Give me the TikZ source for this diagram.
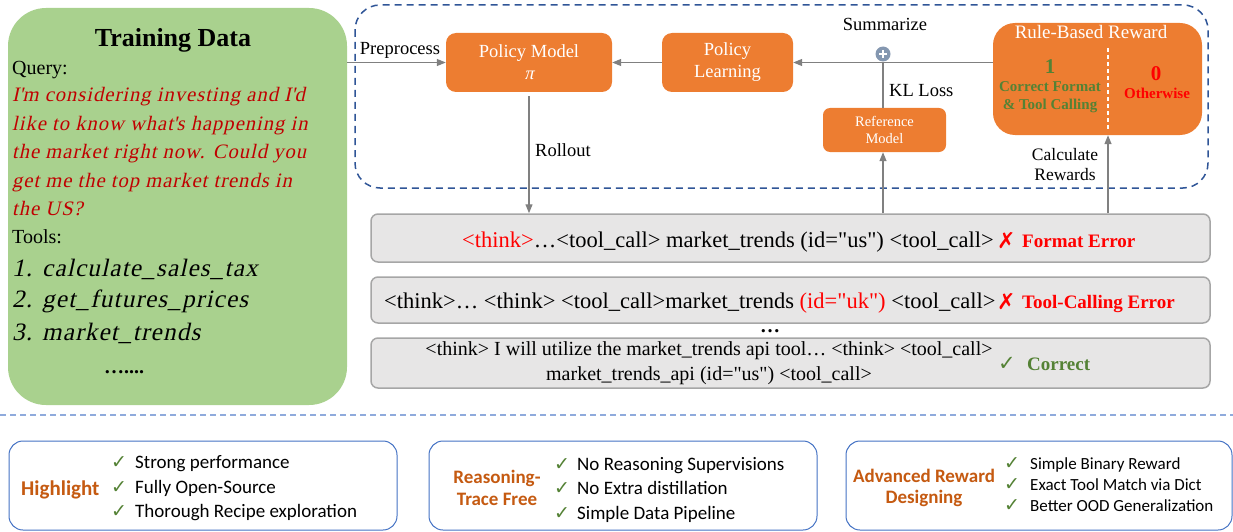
\documentclass[tikz,border=0pt]{standalone}
\usepackage{fontspec}
\setmainfont{Liberation Serif}
\newfontfamily\lsi{Liberation Serif}[FakeSlant=0.22,LetterSpace=5]
\newfontfamily\lsp{Liberation Serif}[FakeSlant=0.22]
\newfontfamily\carl{Carlito}
\newfontfamily\dejavu{DejaVu Sans}
\usetikzlibrary{arrows.meta,calc}
\definecolor{gfill}{HTML}{A9D18E}
\definecolor{orng}{HTML}{ED7D31}
\definecolor{dblue}{HTML}{2F5597}
\definecolor{lblue}{HTML}{8FAADC}
\definecolor{bblue}{HTML}{4472C4}
\definecolor{qred}{HTML}{C00000}
\definecolor{ggreen}{HTML}{548235}
\definecolor{otext}{HTML}{C55A11}
\definecolor{arrgrey}{HTML}{808080}
\definecolor{boxgrey}{HTML}{E7E6E6}
\definecolor{boxedge}{HTML}{A6A6A6}
\definecolor{plusc}{HTML}{8497B0}
\newcommand{\fs}[2]{\fontsize{#1}{#2}\selectfont}
\newcommand{\qq}{\textquotedbl}
\newcommand{\ap}{\textquotesingle}
\begin{document}
\begin{tikzpicture}[x=1pt,y=-1pt,
  obox/.style={fill=orng, draw=none, text=white, align=center, inner sep=0pt},
  arr/.style={draw=arrgrey, line width=1.3pt, -{Triangle[length=9pt,width=7pt]}},
  conn/.style={draw=arrgrey, line width=1.3pt},
  lbl/.style={inner sep=0pt, font=\fs{18.5}{22}},
  txt/.style={inner sep=0pt},
  qline/.style={inner sep=0pt, anchor=base west, text=qred, font=\lsi\fs{20.5}{24}},
  tline/.style={inner sep=0pt, anchor=base west, font=\lsi\fs{25}{28}},
  rbox/.style={fill=boxgrey, draw=boxedge, line width=1.5pt, rounded corners=7pt, minimum width=839pt, inner sep=0pt},
  hbox/.style={draw=bblue, line width=1pt, rounded corners=14pt, fill=white, inner sep=0pt, minimum height=89pt},
  item/.style={anchor=base west, inner sep=0pt, font=\carl\fs{19}{22}},
  itemc/.style={anchor=base west, inner sep=0pt, font=\carl\fs{17}{20}},
  chk/.style={anchor=base west, inner sep=0pt, text=ggreen, font=\dejavu\fs{19}{20}},
  hl/.style={inner sep=0pt, text=otext, font=\carl\bfseries\fs{19}{22}},
]
\useasboundingbox (0,0) rectangle (1233,532);

% ---------- training data ----------
\node[fill=gfill, rounded corners=38pt, minimum width=339pt, minimum height=397pt, inner sep=0pt] (data) at (177.5,206.5) {};
\node[txt, anchor=base, font=\bfseries\fs{26}{30}] (title) at (173,47) {Training Data};
\node[txt, anchor=base west, font=\fs{20}{24}] (query) at (12,75) {Query:};
\node[qline] (q1) at (12,102) {I\ap m considering investing and I\ap d};
\node[qline] (q2) at (12,130) {like to know what\ap s happening in};
\node[qline] (q3) at (12,158) {the market right now. Could you};
\node[qline] (q4) at (12,187) {get me the top market trends in};
\node[qline] (q5) at (12,215) {the US?};
\node[txt, anchor=base west, font=\fs{20}{24}] (tools) at (12,243) {Tools:};
\node[tline] (l1) at (12,276) {1. calculate\_sales\_tax};
\node[tline] (l2) at (12,307) {2. get\_futures\_prices};
\node[tline] (l3) at (12,340) {3. market\_trends};
\node[txt, anchor=base west, font=\bfseries\fs{20}{24}] (ldots) at (104,373) {…....};

% ---------- RL loop ----------
\draw[dblue, line width=1.5pt, dash pattern=on 7pt off 5pt, rounded corners=25pt] (355,5) rectangle (1208,188);

\node[obox, rounded corners=10pt, minimum width=166pt, minimum height=59pt, font=\fs{18.5}{22}] (policy) at (529,62.5) {Policy Model\\{\lsp π}};
\node[obox, rounded corners=10pt, minimum width=131pt, minimum height=59pt, font=\fs{18.5}{22}] (learning) at (727.5,62.5) {Policy\\Learning};
\node[obox, rounded corners=7pt, minimum width=123pt, minimum height=44pt, font=\fs{14.5}{17}] (ref) at (884.5,130) {Reference\\Model};
\node[obox, rounded corners=22pt, minimum width=209pt, minimum height=112pt] (reward) at (1097.5,79) {};
\node[txt, anchor=base, text=white, font=\fs{19}{22}] (rtitle) at (1091,39) {Rule-Based Reward};
\coordinate (divtop) at (1108,48);
\coordinate (divbot) at (1108,130);
\draw[white, line width=1.5pt, dash pattern=on 4pt off 3pt] (divtop) -- (divbot);
\node[txt, anchor=base, text=ggreen, font=\bfseries\fs{21}{22}] (one) at (1050,74) {1};
\node[txt, anchor=base, text=ggreen, font=\bfseries\fs{15}{18}] (cf1) at (1050,92) {Correct Format};
\node[txt, anchor=base, text=ggreen, font=\bfseries\fs{15}{18}] (cf2) at (1050,110) {\& Tool Calling};
\node[txt, anchor=base, text=red, font=\bfseries\fs{21}{22}] (zero) at (1156,81) {0};
\node[txt, anchor=base, text=red, font=\bfseries\fs{15}{18}] (oth) at (1157,99) {Otherwise};

\node[circle, fill=plusc, minimum size=15pt, inner sep=0pt] (plus) at (883,54) {};
\draw[white, line width=1.6pt] ($(plus.center)+(-4,0)$) -- ($(plus.center)+(4,0)$);
\draw[white, line width=1.6pt] ($(plus.center)+(0,-4)$) -- ($(plus.center)+(0,4)$);

\node[lbl, anchor=base] (lpre) at (400,55) {Preprocess};
\node[lbl, anchor=base] (lsum) at (885,31) {Summarize};
\node[lbl, anchor=base west] (lkl) at (889,97) {KL Loss};
\node[lbl, anchor=base west] (lroll) at (535,157) {Rollout};
\node[lbl, anchor=base, align=center, font=\fs{17.5}{20}] (lcalc1) at (1065,160) {Calculate};
\node[lbl, anchor=base, align=center, font=\fs{17.5}{20}] (lcalc2) at (1065,180) {Rewards};

% ---------- rollouts ----------
\node[rbox, minimum height=48pt] (r1) at (790.5,238) {};
\node[rbox, minimum height=46pt] (r2) at (790.5,300) {};
\node[rbox, minimum height=50pt] (r3) at (790.5,363) {};

\node[txt, anchor=base west, font=\fs{22.5}{24}] (t1) at (462,247) {\textcolor{red}{<think>}…<tool\_call> market\_trends (id=\qq us\qq) <tool\_call>};
\node[txt, anchor=base west, text=red, font=\dejavu\fs{22}{22}] (x1) at (997,248) {✗};
\node[txt, anchor=base west, text=red, font=\bfseries\fs{19}{20}] (e1) at (1022,247) {Format Error};

\node[txt, anchor=base west, font=\fs{22.5}{24}] (t2) at (384,308) {<think>… <think> <tool\_call>market\_trends \textcolor{red}{(id=\qq uk\qq)} <tool\_call>};
\node[txt, anchor=base west, text=red, font=\dejavu\fs{22}{22}] (x2) at (997,309) {✗};
\node[txt, anchor=base west, text=red, font=\bfseries\fs{19}{20}] (e2) at (1022,308) {Tool-Calling Error};

\node[txt, anchor=base, font=\bfseries\fs{20}{22}] (vdots) at (770,332) {…};

\node[txt, anchor=base, font=\fs{20}{22}] (t3a) at (709,355) {<think> I will utilize the market\_trends api tool… <think> <tool\_call>};
\node[txt, anchor=base, font=\fs{20}{22}] (t3b) at (709,380) {market\_trends\_api (id=\qq us\qq) <tool\_call>};
\node[txt, anchor=base west, text=ggreen, font=\dejavu\fs{21}{22}] (c3) at (998,370) {✓};
\node[txt, anchor=base west, text=ggreen, font=\bfseries\fs{19}{20}] (e3) at (1027,370) {Correct};

% ---------- connectors ----------
\draw[arr] (data.east |- policy.west) -- (policy.west);
\draw[arr] (learning.west) -- (policy.east);
\draw[arr] (reward.west |- learning.east) -- (learning.east);
\draw[conn] (ref.north -| plus.south) -- (plus.south);
\draw[arr] ($(policy.south)+(0,4)$) -- (policy.south |- r1.north);
\draw[arr] (r1.north -| plus.south) -- (ref.south -| plus.south);
\draw[arr] (r1.north -| divbot) -- (reward.south -| divbot);

% ---------- separator ----------
\draw[lblue, line width=1.2pt, dash pattern=on 6pt off 4pt] (0,415) -- (1233,415);

% ---------- highlight boxes ----------
\node[hbox, minimum width=388pt] (hA) at (203,485.5) {};
\node[hl, anchor=base west, font=\carl\bfseries\fs{21}{24}] (hAl) at (21,495) {Highlight};
\node[chk] (hAc1) at (111,468) {✓};
\node[chk] (hAc2) at (111,493) {✓};
\node[chk] (hAc3) at (111,517) {✓};
\node[item] (hAi1) at (135,468) {Strong performance};
\node[item] (hAi2) at (135,493) {Fully Open-Source};
\node[item] (hAi3) at (135,517) {Thorough Recipe exploration};

\node[hbox, minimum width=388pt] (hB) at (623,485.5) {};
\node[hl, anchor=base] (hBl1) at (497,483) {Reasoning-};
\node[hl, anchor=base] (hBl2) at (497,505) {Trace Free};
\node[chk] (hBc1) at (554,470) {✓};
\node[chk] (hBc2) at (554,494) {✓};
\node[chk] (hBc3) at (554,519) {✓};
\node[item] (hBi1) at (577,470) {No Reasoning Supervisions};
\node[item] (hBi2) at (577,494) {No Extra distillation};
\node[item] (hBi3) at (577,519) {Simple Data Pipeline};

\node[hbox, minimum width=386pt] (hC) at (1039,485.5) {};
\node[hl, anchor=base] (hCl1) at (924,482) {Advanced Reward};
\node[hl, anchor=base] (hCl2) at (924,503) {Designing};
\node[chk] (hCc1) at (1004,469) {✓};
\node[chk] (hCc2) at (1004,490) {✓};
\node[chk] (hCc3) at (1004,511) {✓};
\node[itemc] (hCi1) at (1030,469) {Simple Binary Reward};
\node[itemc] (hCi2) at (1030,490) {Exact Tool Match via Dict};
\node[itemc] (hCi3) at (1030,511) {Better OOD Generalization};
\end{tikzpicture}
\end{document}
